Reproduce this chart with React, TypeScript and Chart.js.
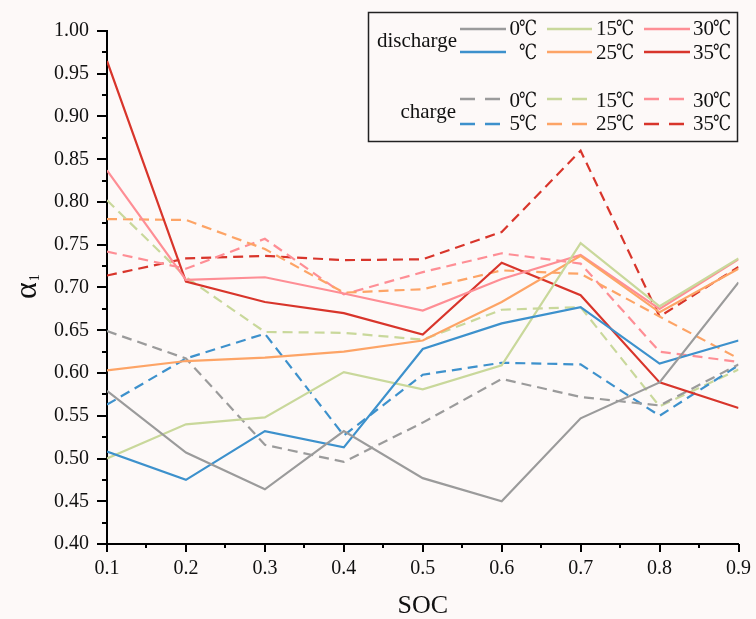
import { useEffect, useRef } from "react";
import { Chart, registerables } from "chart.js";

Chart.register(...registerables);

// State of charge sample points
const socValues = [0.1, 0.2, 0.3, 0.4, 0.5, 0.6, 0.7, 0.8, 0.9];

// Discharge α1 at each temperature
const discharge0 = [0.579, 0.507, 0.464, 0.532, 0.477, 0.45, 0.547, 0.589, 0.706];
const discharge5 = [0.508, 0.475, 0.532, 0.513, 0.628, 0.658, 0.677, 0.611, 0.638];
const discharge15 = [0.5, 0.54, 0.548, 0.601, 0.581, 0.609, 0.752, 0.678, 0.734];
const discharge25 = [0.603, 0.614, 0.618, 0.625, 0.638, 0.683, 0.737, 0.671, 0.722];
const discharge30 = [0.837, 0.709, 0.712, 0.693, 0.673, 0.71, 0.738, 0.675, 0.733];
const discharge35 = [0.965, 0.707, 0.683, 0.67, 0.645, 0.729, 0.691, 0.589, 0.559];

// Charge α1 at each temperature
const charge0 = [0.649, 0.617, 0.516, 0.496, 0.542, 0.593, 0.572, 0.562, 0.61];
const charge5 = [0.563, 0.617, 0.646, 0.527, 0.598, 0.612, 0.61, 0.55, 0.609];
const charge15 = [0.802, 0.712, 0.648, 0.647, 0.639, 0.674, 0.677, 0.561, 0.604];
const charge25 = [0.78, 0.779, 0.745, 0.694, 0.698, 0.72, 0.716, 0.666, 0.617];
const charge30 = [0.742, 0.722, 0.757, 0.692, 0.718, 0.74, 0.728, 0.625, 0.613];
const charge35 = [0.714, 0.734, 0.737, 0.732, 0.733, 0.765, 0.86, 0.666, 0.724];

// Legend temperatures (number part; the unit ℃ is appended when drawn)
const dischargeTemps = ["0", "", "15", "25", "30", "35"];
const chargeTemps = ["0", "5", "15", "25", "30", "35"];
const UNIT = "℃";

const palette = ["#9b9b9b", "#3d91cc", "#c9d89b", "#fda466", "#fe8e95", "#d8352b"];

const BG = "#fdf9f8";
const SERIF = '"Liberation Serif", "DejaVu Serif", "Noto Sans CJK SC", serif';
const DASH = [10, 6];

const dischargeSeries = [discharge0, discharge5, discharge15, discharge25, discharge30, discharge35];
const chargeSeries = [charge0, charge5, charge15, charge25, charge30, charge35];

const toPoints = (vals: number[]) => socValues.map((x, i) => ({ x, y: vals[i] }));

const decorations = {
  id: "decorations",
  afterDraw(chart: any) {
    const ctx: CanvasRenderingContext2D = chart.ctx;
    const xs = chart.scales.x;
    const ys = chart.scales.y;
    const area = chart.chartArea;
    ctx.save();

    // axis tick marks: major and minor
    ctx.strokeStyle = "#000";
    ctx.lineWidth = 2;
    ctx.beginPath();
    for (let i = 0; i <= 24; i++) {
      const py = Math.round(ys.getPixelForValue(0.4 + i * 0.025));
      const len = i % 2 === 0 ? 10 : 5;
      ctx.moveTo(area.left - len, py);
      ctx.lineTo(area.left, py);
    }
    for (let i = 0; i <= 16; i++) {
      const px = Math.round(xs.getPixelForValue(0.1 + i * 0.05));
      const len = i % 2 === 0 ? 8 : 4;
      ctx.moveTo(px, area.bottom);
      ctx.lineTo(px, area.bottom + len);
    }
    ctx.stroke();

    // y axis title α1
    ctx.fillStyle = "#111";
    ctx.translate(36, 299);
    ctx.rotate(-Math.PI / 2);
    ctx.textAlign = "left";
    ctx.textBaseline = "alphabetic";
    ctx.font = `32px ${SERIF}`;
    ctx.fillText("α", 0, 0);
    const aw = ctx.measureText("α").width;
    ctx.font = `14px ${SERIF}`;
    ctx.fillText("1", aw + 1, 3);
    ctx.setTransform(1, 0, 0, 1, 0, 0);

    // legend box
    ctx.fillStyle = BG;
    ctx.fillRect(368, 12, 370, 130);
    ctx.strokeStyle = "#222";
    ctx.lineWidth = 1.5;
    ctx.strokeRect(368.5, 12.5, 369, 129);

    ctx.fillStyle = "#111";
    ctx.font = `21px ${SERIF}`;
    ctx.textAlign = "right";
    ctx.textBaseline = "alphabetic";
    ctx.fillText("discharge", 457, 47);
    ctx.fillText("charge", 456, 118);

    const lineX = [[460, 506], [547, 592], [644, 690]];
    const textX = [537, 634, 731];
    const unitW = 18;
    const rows = [
      { lineY: 29, base: 35 },
      { lineY: 52, base: 59 },
      { lineY: 99, base: 107 },
      { lineY: 124, base: 130 },
    ];
    const drawGroup = (temps: string[], rowOffset: number, dashed: boolean) => {
      temps.forEach((t, i) => {
        const col = Math.floor(i / 2);
        const r = rows[rowOffset + (i % 2)];
        ctx.strokeStyle = palette[i];
        ctx.lineWidth = 2.5;
        ctx.setLineDash(dashed ? [15, 10] : []);
        ctx.beginPath();
        ctx.moveTo(lineX[col][0], r.lineY);
        ctx.lineTo(lineX[col][1], r.lineY);
        ctx.stroke();
        ctx.setLineDash([]);
        ctx.fillStyle = "#111";
        ctx.textAlign = "right";
        ctx.fillText(UNIT, textX[col], r.base, unitW);
        if (t) ctx.fillText(t, textX[col] - unitW + 1, r.base);
      });
    };
    drawGroup(dischargeTemps, 0, false);
    drawGroup(chargeTemps, 2, true);

    ctx.restore();
  },
};

export default function App() {
  const canvasRef = useRef<HTMLCanvasElement | null>(null);

  useEffect(() => {
    const canvas = canvasRef.current;
    if (!canvas) return;

    const datasets: any[] = [];
    dischargeSeries.forEach((vals, i) => {
      datasets.push({
        label: `discharge ${dischargeTemps[i]}${UNIT}`,
        data: toPoints(vals),
        borderColor: palette[i],
        backgroundColor: palette[i],
        borderWidth: 2.2,
        pointRadius: 0,
        tension: 0,
        fill: false,
      });
    });
    chargeSeries.forEach((vals, i) => {
      datasets.push({
        label: `charge ${chargeTemps[i]}${UNIT}`,
        data: toPoints(vals),
        borderColor: palette[i],
        backgroundColor: palette[i],
        borderWidth: 2.2,
        borderDash: DASH,
        pointRadius: 0,
        tension: 0,
        fill: false,
      });
    });

    const chart = new Chart(canvas, {
      type: "line",
      data: { datasets },
      options: {
        responsive: false,
        animation: false,
        devicePixelRatio: 1,
        layout: { padding: { top: 31, right: 15, left: 0, bottom: 0 } },
        plugins: { legend: { display: false }, tooltip: { enabled: false } },
        scales: {
          x: {
            type: "linear",
            min: 0.1,
            max: 0.9,
            afterFit: (s: any) => {
              s.height = 75;
            },
            border: { display: true, color: "#000", width: 2 },
            grid: {
              drawOnChartArea: false,
              drawTicks: true,
              tickLength: 8,
              color: "rgba(0,0,0,0)",
              tickColor: "rgba(0,0,0,0)",
            },
            ticks: {
              stepSize: 0.1,
              padding: 5,
              maxRotation: 0,
              color: "#111",
              font: { family: SERIF, size: 20 },
              callback: (v: any) => Number(v).toFixed(1),
            },
            title: {
              display: true,
              text: "SOC",
              color: "#111",
              font: { family: SERIF, size: 26, lineHeight: 1 },
              padding: { top: 0, bottom: 0 },
            },
          },
          y: {
            type: "linear",
            min: 0.4,
            max: 1.0,
            afterFit: (s: any) => {
              s.width = 107;
            },
            border: { display: true, color: "#000", width: 2 },
            grid: {
              drawOnChartArea: false,
              drawTicks: true,
              tickLength: 10,
              color: "rgba(0,0,0,0)",
              tickColor: "rgba(0,0,0,0)",
            },
            ticks: {
              stepSize: 0.05,
              padding: 8,
              color: "#111",
              font: { family: SERIF, size: 20 },
              callback: (v: any) => Number(v).toFixed(2),
            },
          },
        },
      },
      plugins: [decorations],
    });

    return () => chart.destroy();
  }, []);

  return (
    <div
      style={{
        position: "fixed",
        left: 0,
        top: 0,
        width: 756,
        height: 619,
        background: BG,
      }}
    >
      <canvas ref={canvasRef} width={756} height={619} style={{ display: "block" }} />
    </div>
  );
}
